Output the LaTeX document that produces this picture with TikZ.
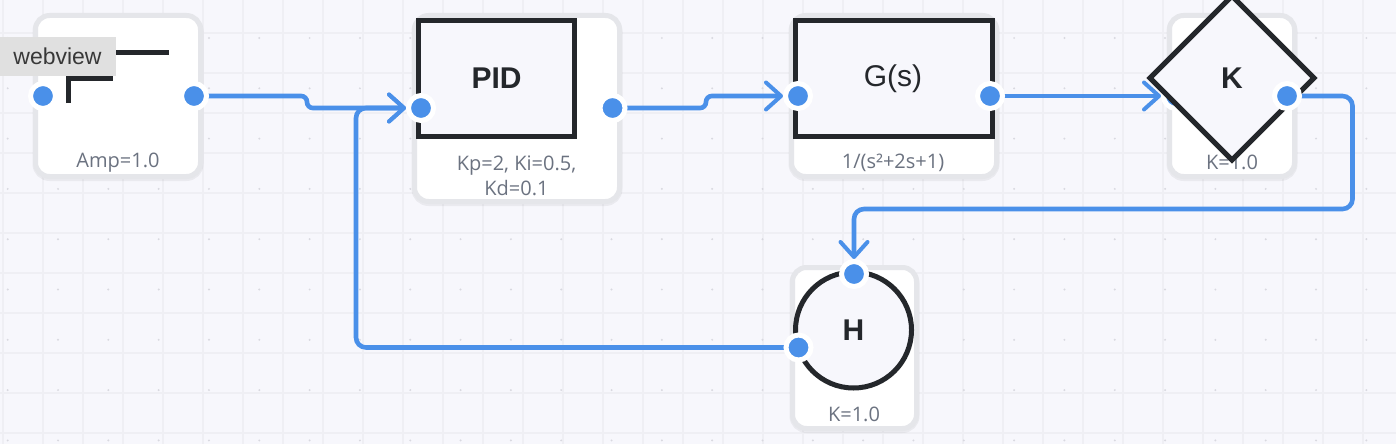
\documentclass[tikz,border=0pt]{standalone}
\usepackage{fontspec}
\setmainfont{Liberation Sans}
\newfontfamily\capfont{Open Sans}
\usetikzlibrary{arrows.meta,shapes.geometric}
\definecolor{bgc}{HTML}{F7F7FC}
\definecolor{gridc}{HTML}{EFEFF4}
\definecolor{dotc}{HTML}{D9D9E0}
\definecolor{cardb}{HTML}{E5E6EA}
\definecolor{inkc}{HTML}{24272B}
\definecolor{capc}{HTML}{6B7280}
\definecolor{bluec}{HTML}{4A90E9}
\definecolor{tipc}{HTML}{E0E0E0}
\pgfdeclarelayer{cardl}\pgfdeclarelayer{edgel}\pgfdeclarelayer{kportl}\pgfdeclarelayer{shapel}
\pgfsetlayers{cardl,edgel,kportl,shapel,main}
\tikzset{
  card/.style={draw=cardb,line width=5pt,fill=white,rounded corners=14pt,inner sep=0pt,
    preaction={draw=black,opacity=.05,line width=6pt,transform canvas={yshift=-1.5pt}}},
  blockbox/.style={draw=inkc,line width=5pt,fill=bgc,inner sep=0pt,miter limit=10},
  port/.style={circle,fill=bluec,draw=white,line width=5pt,minimum size=25pt,inner sep=0pt,outer sep=2.5pt},
  wire/.style={draw=bluec,line width=4.6pt,rounded corners=10pt,line cap=round,
    -{Straight Barb[length=15pt,width=27pt,line width=4pt,round]}},
  stepwire/.style={wire,rounded corners=5.9pt},
  caption/.style={text=capc,font=\capfont\fontsize{20}{25}\selectfont,align=center,inner sep=0pt},
  bold/.style={text=inkc,font=\fontsize{30}{32}\selectfont\bfseries,inner sep=0pt},
}
\begin{document}
\begin{tikzpicture}[x=1pt,y=-1pt]
\useasboundingbox (0,0) rectangle (1396,444);
\begin{pgfonlayer}{cardl}
  \fill[bgc] (0,0) rectangle (1396,444);
  \foreach \gx in {3,43,...,1396} \draw[gridc,line width=1.7pt] (\gx,0) -- (\gx,444);
  \foreach \gy in {33,73,...,444} \draw[gridc,line width=1.7pt] (0,\gy) -- (1396,\gy);
  \foreach \k in {0,...,27} \foreach \j in {0,...,8}
    \fill[dotc] ({7.7+50.32*\k},{38+50.3*\j}) circle (1.1pt);
  \node[card,minimum width=165pt,minimum height=161pt] (srccard) at (118,96) {};
  \node[card,minimum width=205pt,minimum height=186pt] (pidcard) at (517,108.5) {};
  \node[card,minimum width=205pt,minimum height=161pt] (gcard) at (894,96) {};
  \node[card,minimum width=125pt,minimum height=161pt] (kcard) at (1232,96) {};
  \node[card,minimum width=124pt,minimum height=161pt] (hcard) at (854.5,348) {};
  \node[caption] at (118,162.5) {Amp=1.0};
  \node[caption] at (516.5,175.5) {Kp=2, Ki=0.5,\\Kd=0.1};
  \node[caption] at (893,162.5) {1/(s²+2s+1)};
  \node[caption] at (1232,162.5) {K=1.0};
  \node[caption] at (854,414) {K=1.0};
\end{pgfonlayer}
\begin{pgfonlayer}{shapel}
  \draw[inkc,line width=5pt,miter limit=10] (68,103) -- (68,78) -- (110,78) -- (110,53) -- (169,53);
  \node[blockbox,minimum width=156pt,minimum height=116pt] (pidbox) at (496.5,78.5) {};
  \node[bold] at (496.5,78) {PID};
  \node[blockbox,minimum width=197pt,minimum height=116pt] (gbox) at (894,78.5) {};
  \node[text=inkc,font=\fontsize{30}{32}\selectfont,inner sep=0pt] at (893,79) {G(s)};
  \draw[blockbox,line join=miter] (1232,-4) -- (1314,78) -- (1232,160) -- (1150,78) -- cycle;
  \node[bold] at (1232,78) {K};
  \node[circle,blockbox,minimum size=116pt] (hcirc) at (853.5,330) {};
  \node[bold] at (853.5,330) {H};
\end{pgfonlayer}
% ports
\node[port] (srcout) at (194,96) {};
\node[port] (srcin) at (43,96) {};
\node[port] (pidin) at (421,108) {};
\node[port] (pidout) at (612.5,108) {};
\node[port] (gin) at (798,96) {};
\node[port] (gout) at (990,96) {};
\node[port] (kout) at (1287,96) {};
\node[port] (htop) at (854,274) {};
\node[port] (hleft) at (798.5,347.5) {};
\begin{pgfonlayer}{kportl}
  \node[port] (kin) at (1176,96) {};
\end{pgfonlayer}
\begin{pgfonlayer}{edgel}
  \draw[stepwire] (srcout.center) -- (307,96) -- (307,108) -- (pidin.west);
  \draw[stepwire] (pidout.center) -- (706,108) -- (706,96) -- (gin.west);
  \draw[wire] (gout.center) -- (kin.west);
  \draw[wire] (kout.center) -- (1352.5,96) -- (1352.5,209) -- (854,209) -- (htop.north);
  \draw[wire] (hleft.center) -- (356,347.5) -- (356,108) -- (pidin.west);
\end{pgfonlayer}
% tooltip
\node[draw=black!12,line width=.7pt,fill=tipc,minimum width=116pt,minimum height=38pt,inner sep=0pt,
  text=black!78,font=\fontsize{23}{26}\selectfont] (webtip) at (57.5,56.5) {webview};
\end{tikzpicture}
\end{document}
